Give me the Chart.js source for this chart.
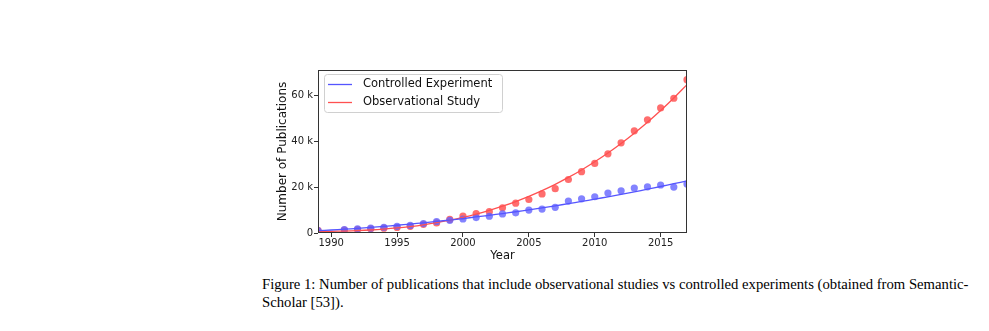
<!DOCTYPE html>
<html>
<head>
<meta charset="utf-8">
<script src="https://cdn.jsdelivr.net/npm/chart.js@4.4.1/dist/chart.umd.min.js"></script>
<style>
  body { margin: 0; background: #fff; width: 989px; height: 331px; position: relative; overflow: hidden; }
  #wrap { position: absolute; left: 276px; top: 60px; width: 424px; height: 203px; }
  #caption {
    position: absolute; left: 262px; top: 275px; width: 720px;
    font-family: "Liberation Serif", "Times New Roman", serif; font-size: 14.7px; line-height: 18px; color: #000;
  }
</style>
</head>
<body>
<div id="wrap"><canvas id="chart" width="424" height="203"></canvas></div>
<div id="caption">Figure 1: Number of publications that include observational studies vs controlled experiments (obtained from Semantic-<br>Scholar [53]).</div>
<script>
// yearly counts (in thousands); 1990 has no point
const years = [1989, 1991, 1992, 1993, 1994, 1995, 1996, 1997, 1998, 1999, 2000, 2001, 2002, 2003,
               2004, 2005, 2006, 2007, 2008, 2009, 2010, 2011, 2012, 2013, 2014, 2015, 2016, 2017];
const controlled = [1.0, 1.5, 1.8, 2.1, 2.5, 2.9, 3.3, 4.1, 5.0, 5.5, 6.1, 6.7, 7.3, 8.3,
                    8.8, 10.0, 10.4, 11.2, 13.9, 14.9, 15.8, 17.4, 18.4, 19.6, 20.1, 20.9, 20.0, 21.3];
const observational = [1.2, 1.3, 1.5, 1.8, 2.1, 2.4, 2.9, 3.8, 4.4, 5.9, 7.4, 8.5, 9.3, 11.0,
                       13.0, 14.6, 17.0, 19.3, 23.3, 26.7, 30.3, 34.5, 39.3, 44.5, 49.3, 54.5, 58.7, 66.8];

const fitYears = [1989, 1990, 1991, 1992, 1993, 1994, 1995, 1996, 1997, 1998, 1999, 2000, 2001, 2002, 2003,
                  2004, 2005, 2006, 2007, 2008, 2009, 2010, 2011, 2012, 2013, 2014, 2015, 2016, 2017];
const controlledFit = [1.00, 1.31, 1.65, 2.03, 2.44, 2.89, 3.37, 3.89, 4.44, 5.03, 5.65, 6.30, 6.99, 7.71, 8.47,
                       9.26, 10.09, 10.95, 11.85, 12.78, 13.74, 14.74, 15.77, 16.84, 17.94, 19.08, 20.25, 21.46, 22.70];
const observationalFit = [0.70, 0.73, 0.84, 1.02, 1.30, 1.69, 2.19, 2.82, 3.58, 4.49, 5.57, 6.81, 8.23, 9.85, 11.67,
                          13.71, 15.96, 18.46, 21.20, 24.20, 27.47, 31.02, 34.86, 39.00, 43.46, 48.24, 53.35, 58.81, 64.63];

const xTicks = [1990, 1995, 2000, 2005, 2010, 2015];
const yTicks = [0, 20000, 40000, 60000];
const yTickLabels = ['0', '20 k', '40 k', '60 k'];

const toPts = (xs, ys) => xs.map((x, i) => ({x: x, y: ys[i] * 1000}));

const blueLine = 'rgb(85, 85, 255)';
const bluePt = 'rgba(100, 100, 255, 0.8)';
const redLine = 'rgb(255, 80, 80)';
const redPt = 'rgba(255, 85, 85, 0.85)';
const tickFont = {family: 'DejaVu Sans', size: 10};

// frame on all four sides + legend box inside the plot
const framePlugin = {
    id: 'frame',
    afterDraw(chart) {
        const {ctx, chartArea: a} = chart;
        ctx.save();
        ctx.strokeStyle = '#333';
        ctx.lineWidth = 1;
        ctx.strokeRect(a.left + 0.5, a.top + 0.5, a.right - a.left - 1, a.bottom - a.top - 1);

        const lx = a.left + 6, ly = a.top + 4, lw = 178, lh = 38;
        ctx.fillStyle = 'rgba(255,255,255,0.85)';
        ctx.strokeStyle = '#d0d0d0';
        ctx.beginPath();
        ctx.roundRect(lx + 0.5, ly + 0.5, lw, lh, 3);
        ctx.fill();
        ctx.stroke();

        const items = chart.data.datasets.filter(d => d.inLegend);
        ctx.font = '11.5px "DejaVu Sans"';
        ctx.textBaseline = 'middle';
        items.forEach((d, i) => {
            const y = ly + 10.5 + i * 18;
            ctx.strokeStyle = d.borderColor;
            ctx.lineWidth = 1.3;
            ctx.beginPath();
            ctx.moveTo(lx + 4, y);
            ctx.lineTo(lx + 28, y);
            ctx.stroke();
            ctx.fillStyle = '#111';
            ctx.fillText(d.label, lx + 39, y);
        });
        ctx.restore();
    }
};

new Chart(document.getElementById('chart'), {
    type: 'scatter',
    data: {
        datasets: [
            {
                label: 'Controlled Experiment', inLegend: true,
                data: toPts(fitYears, controlledFit),
                showLine: true, pointRadius: 0, borderColor: blueLine, borderWidth: 1.3, tension: 0.4
            },
            {
                label: 'Observational Study', inLegend: true,
                data: toPts(fitYears, observationalFit),
                showLine: true, pointRadius: 0, borderColor: redLine, borderWidth: 1.3, tension: 0.4
            },
            {
                label: 'controlled points',
                data: toPts(years, controlled),
                pointRadius: 3.6, backgroundColor: bluePt, borderWidth: 0
            },
            {
                label: 'observational points',
                data: toPts(years, observational),
                pointRadius: 3.6, backgroundColor: redPt, borderWidth: 0
            }
        ]
    },
    options: {
        responsive: false,
        animation: false,
        layout: {padding: {left: 0, right: 13, top: 10, bottom: 0}},
        plugins: {legend: {display: false}, tooltip: {enabled: false}},
        scales: {
            x: {
                type: 'linear', min: 1989, max: 2017,
                afterBuildTicks: axis => { axis.ticks = xTicks.map(v => ({value: v})); },
                afterFit: axis => { axis.height = 30; },
                grid: {display: true, drawOnChartArea: false, drawTicks: true, tickLength: 4, color: '#333'},
                border: {display: false},
                ticks: {font: tickFont, color: '#222', padding: 0, maxRotation: 0,
                        callback: v => String(v)},
                title: {display: true, text: 'Year', font: {family: 'DejaVu Sans', size: 11.5}, color: '#111', padding: {top: 1, bottom: 0}}
            },
            y: {
                type: 'linear', min: 0, max: 71000,
                afterBuildTicks: axis => { axis.ticks = yTicks.map(v => ({value: v})); },
                afterFit: axis => { axis.width = 42; },
                grid: {display: true, drawOnChartArea: false, drawTicks: true, tickLength: 4, color: '#333'},
                border: {display: false},
                ticks: {font: tickFont, color: '#222', padding: 1,
                        callback: v => yTickLabels[yTicks.indexOf(v)]},
                title: {display: true, text: 'Number of Publications', font: {family: 'DejaVu Sans', size: 12}, color: '#111', padding: {top: 0, bottom: 2}}
            }
        }
    },
    plugins: [framePlugin]
});
</script>
</body>
</html>
